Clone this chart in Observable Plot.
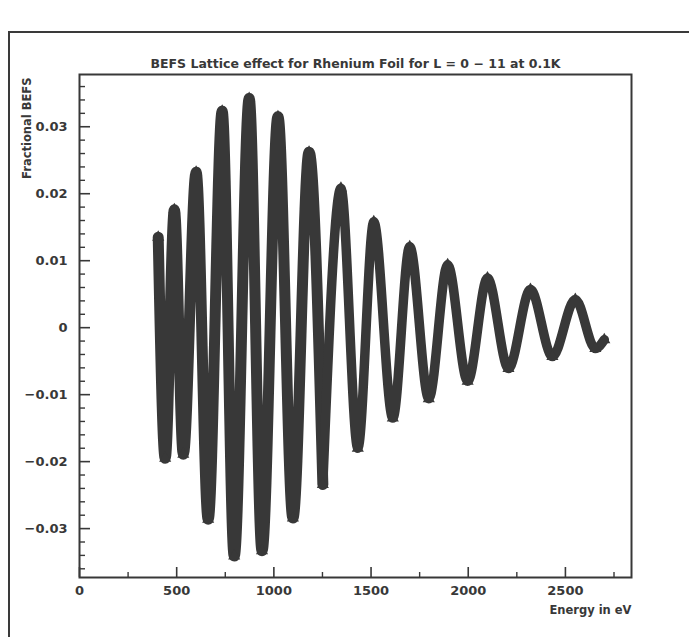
<!DOCTYPE html>
<html>
<head>
<meta charset="utf-8">
<script src="https://cdn.jsdelivr.net/npm/d3@7"></script>
<script src="https://cdn.jsdelivr.net/npm/@observablehq/plot@0.6"></script>
<style>
  html, body { margin: 0; padding: 0; background: #fff; }
  #wrap { position: relative; width: 689px; height: 637px; overflow: hidden; }
  #border { position: absolute; left: 8px; top: 31px; width: 720px; height: 700px;
            border-left: 2.5px solid #3a3a3a; border-top: 2px solid #3a3a3a; pointer-events: none; }
</style>
</head>
<body>
<div id="wrap"><div id="border"></div></div>
<script>
// Extrema of the BEFS oscillation (energy in eV, fractional BEFS)
const energy = [405, 441, 488, 534, 600, 662, 734, 796, 873, 939, 1021, 1098, 1181, 1252,
                1345, 1432, 1514, 1612, 1699, 1797, 1894, 1997, 2099, 2207, 2320, 2433,
                2551, 2654, 2700];
const befs   = [0.0135, -0.0195, 0.0176, -0.0189, 0.0232, -0.0286, 0.0323, -0.0341, 0.0342, -0.0333,
                0.0315, -0.0284, 0.0262, -0.0234, 0.0208, -0.0180, 0.0158, -0.0135, 0.0121, -0.0106,
                0.0094, -0.0080, 0.0074, -0.0061, 0.0057, -0.0043, 0.0042, -0.0031, -0.0018];

const xTicks = [0, 500, 1000, 1500, 2000, 2500];
const xMinorTicks = [250, 750, 1250, 1750, 2250, 2750];
const yTicks = [-0.03, -0.02, -0.01, 0, 0.01, 0.02, 0.03];
const yMinorTicks = [-0.036, -0.034, -0.032, -0.028, -0.026, -0.024, -0.022, -0.018, -0.016, -0.014, -0.012,
                     -0.008, -0.006, -0.004, -0.002, 0.002, 0.004, 0.006, 0.008, 0.012, 0.014, 0.016, 0.018,
                     0.022, 0.024, 0.026, 0.028, 0.032, 0.034, 0.036];

const titleText = "BEFS Lattice effect for Rhenium Foil for L = 0 \u2212 11 at 0.1K";
const xLabel = "Energy in eV";
const yLabel = "Fractional BEFS";

const data = energy.map((e, i) => ({energy: e, befs: befs[i]}));
// the sparse-marker (low energy) part looks broader than the dense tail
const lowPart = data.filter(d => d.energy <= 1252);
const highPart = data.filter(d => d.energy >= 1252);

const W = 689, H = 637;
const mL = 79, mR = 58, mT = 74, mB = 60;
const pw = W - mL - mR, ph = H - mT - mB;
const ink = "#383838";

const chart = Plot.plot({
  width: W,
  height: H,
  marginLeft: mL, marginRight: mR, marginTop: mT, marginBottom: mB,
  style: {fontFamily: "DejaVu Sans", fontWeight: "bold", fontSize: "13px", color: ink, background: "transparent"},
  x: {domain: [0, 2840]},
  y: {domain: [-0.0373, 0.0378]},
  marks: [
    Plot.line(lowPart, {x: "energy", y: "befs", curve: "monotone-x", stroke: ink, strokeWidth: 11,
                        strokeLinecap: "round", strokeLinejoin: "round"}),
    Plot.line(highPart, {x: "energy", y: "befs", curve: "monotone-x", stroke: ink, strokeWidth: 9.5,
                         strokeLinecap: "round", strokeLinejoin: "round"}),
    Plot.dot(data, {x: "energy", y: "befs", symbol: "triangle", r: 4.5, fill: ink}),
    Plot.tickY(yTicks, {y: d => d, insetRight: pw - 11, stroke: ink, strokeWidth: 1.6}),
    Plot.tickY(yMinorTicks, {y: d => d, insetRight: pw - 6, stroke: ink, strokeWidth: 1.4}),
    Plot.tickX(xTicks, {x: d => d, insetTop: ph - 10, stroke: ink, strokeWidth: 1.6}),
    Plot.tickX(xMinorTicks, {x: d => d, insetTop: ph - 5, stroke: ink, strokeWidth: 1.4}),
    Plot.axisY(yTicks, {tickSize: 0, tickPadding: 12, fontSize: 13,
                        tickFormat: d => d === 0 ? "0" : d3.format(".2f")(d), label: null}),
    Plot.axisX(xTicks, {tickSize: 0, tickPadding: 8, fontSize: 13, tickFormat: d => String(d), label: null}),
    Plot.frame({stroke: ink, strokeWidth: 2}),
    Plot.text([titleText], {frameAnchor: "top", dy: -11, lineAnchor: "middle", fontSize: 12.5, fill: ink}),
    Plot.text([xLabel], {frameAnchor: "bottom-right", dy: 33, textAnchor: "end", lineAnchor: "middle", fontSize: 11.5, fill: ink}),
    Plot.text([yLabel], {frameAnchor: "top-left", dx: -52, dy: 3, rotate: -90, textAnchor: "end", lineAnchor: "middle", fontSize: 11.5, fill: ink})
  ]
});
document.getElementById("wrap").prepend(chart);
</script>
</body>
</html>
